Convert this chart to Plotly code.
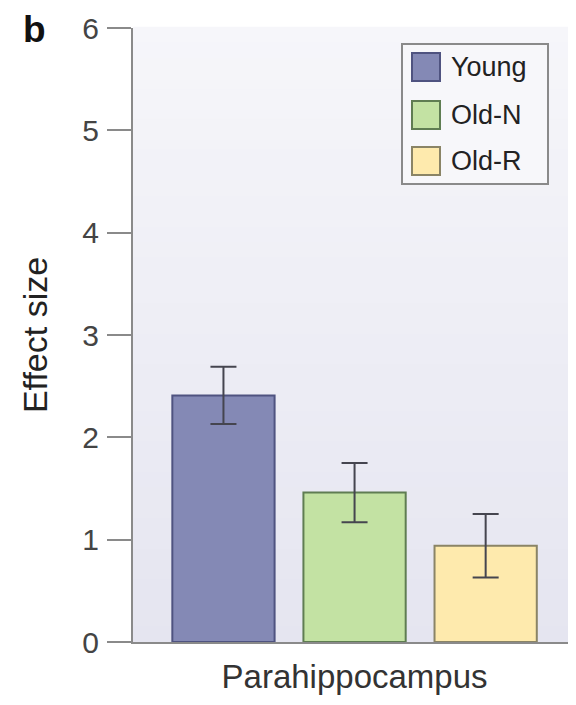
import plotly.graph_objects as go

groups = ["Young", "Old-N", "Old-R"]
region = ["Parahippocampus"]
effect = [2.41, 1.46, 0.94]
err = [0.28, 0.29, 0.31]
fills = ["#8489b5", "#c3e2a3", "#feeaad"]
edges = ["#4f5380", "#5f7d52", "#8a8466"]
yticks = [0, 1, 2, 3, 4, 5, 6]

# page places the figure div 8px in from the top-left (body margin)
OFF = 8
W, H = 576 - OFF, 705 - OFF
L, R, T, B = 133 - OFF, 6, 28 - OFF, 63
pw, ph = W - L - R, H - T - B

fig = go.Figure()
for g, v, e, fc, ec in zip(groups, effect, err, fills, edges):
    fig.add_trace(go.Bar(
        name=g, x=region, y=[v],
        marker=dict(color=fc, line=dict(color=ec, width=2)),
        error_y=dict(type="data", array=[e], color="#45454f", thickness=2, width=13),
        showlegend=False,
    ))

shapes = []
# background gradient bands
nb = 40
top = (246, 246, 250)
bot = (229, 229, 240)
for i in range(nb):
    f = (i + 0.5) / nb
    c = tuple(round(top[k] + (bot[k] - top[k]) * f) for k in range(3))
    shapes.append(dict(type="rect", xref="paper", yref="paper",
                       x0=0, x1=1, y0=1 - (i + 1) / nb, y1=1 - i / nb + 0.002,
                       fillcolor="rgb(%d,%d,%d)" % c, line=dict(width=0), layer="below"))

def px_x(x):
    return (x - OFF - L) / pw

def px_y(y):
    return (T + ph - (y - OFF)) / ph

# legend box
shapes.append(dict(type="rect", xref="paper", yref="paper",
                   x0=px_x(402), x1=px_x(548), y0=px_y(184), y1=px_y(44),
                   line=dict(color="#8a8a8a", width=2), fillcolor="rgba(247,247,250,1)"))
annotations = []
ycs = [67, 115, 161]
for g, fc, ec, yc in zip(groups, fills, edges, ycs):
    shapes.append(dict(type="rect", xref="paper", yref="paper",
                       x0=px_x(412), x1=px_x(440), y0=px_y(yc + 14), y1=px_y(yc - 14),
                       line=dict(color=ec, width=2), fillcolor=fc))
    annotations.append(dict(text=g, xref="paper", yref="paper", x=px_x(449), y=px_y(yc),
                            xanchor="left", yanchor="middle", showarrow=False,
                            font=dict(size=27, color="#222222")))

annotations.append(dict(text="<b>b</b>", xref="paper", yref="paper",
                        x=px_x(22), y=px_y(OFF), xanchor="left", yanchor="top",
                        showarrow=False, borderpad=0,
                        font=dict(size=37, color="#111111", family="Liberation Sans, Arial")))

fig.update_layout(
    width=W, height=H,
    margin=dict(l=L, r=R, t=T, b=B, autoexpand=False),
    paper_bgcolor="white", plot_bgcolor="#eeeef5",
    barmode="group", bargap=0.10, bargroupgap=0.22,
    font=dict(family="Liberation Sans, Arial", color="#333333", size=24),
    shapes=shapes, annotations=annotations,
    xaxis=dict(showline=True, linecolor="#8a8a8a", linewidth=2, ticks="",
               range=[-0.507, 0.493],
               tickfont=dict(size=33, color="#333333"), ticklabelstandoff=4,
               showgrid=False, zeroline=False, automargin=False),
    yaxis=dict(range=[0, 6], tickvals=yticks, showline=True, linecolor="#8a8a8a",
               linewidth=2, ticks="outside", ticklen=24, tickwidth=2, tickcolor="#8a8a8a",
               tickfont=dict(size=30, color="#444444"), ticklabelstandoff=2,
               showgrid=False, zeroline=False, automargin=False,
               title=dict(text="Effect size", font=dict(size=34, color="#222222"), standoff=24)),
)

fig.write_html("out.html")
